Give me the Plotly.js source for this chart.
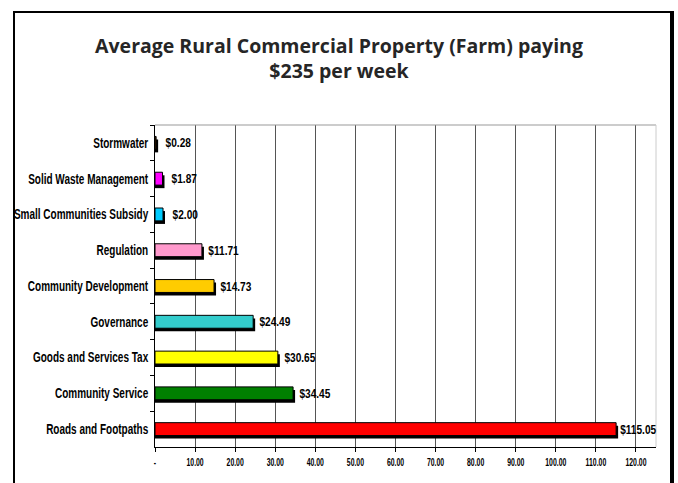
<!DOCTYPE html>
<html>
<head>
<meta charset="utf-8">
<script src="https://cdn.plot.ly/plotly-3.0.1.min.js"></script>
<style>
  html, body { margin: 0; padding: 0; background: #fff; }
  #wrap { position: relative; width: 678px; height: 483px; overflow: hidden; }
  #chart { width: 678px; height: 483px; }
  #frame { position: absolute; left: 13px; top: 11px; width: 655px; height: 500px;
           border-left: 2px solid #000; border-top: 2px solid #000; border-right: 4px solid #000;
           pointer-events: none; }
</style>
</head>
<body>
<div id="wrap">
  <div id="chart"></div>
  <div id="frame"></div>
</div>
<script>
// Data (top to bottom as shown)
const categories = [
  "Stormwater",
  "Solid Waste Management",
  "Small Communities Subsidy",
  "Regulation",
  "Community Development",
  "Governance",
  "Goods and Services Tax",
  "Community Service",
  "Roads and Footpaths"
];
const values = [0.28, 1.87, 2.00, 11.71, 14.73, 24.49, 30.65, 34.45, 115.05];
const valueLabels = ["$0.28", "$1.87", "$2.00", "$11.71", "$14.73", "$24.49", "$30.65", "$34.45", "$115.05"];
const barColors = ["#663300", "#FF00FF", "#00CCFF", "#FF99CC", "#FFCC00", "#33CCCC", "#FFFF00", "#008000", "#FF0000"];
const tickValues = [0, 10, 20, 30, 40, 50, 60, 70, 80, 90, 100, 110, 120];
const tickLabels = ["-", "10.00", "20.00", "30.00", "40.00", "50.00", "60.00", "70.00", "80.00", "90.00", "100.00", "110.00", "120.00"];

const lab = "'Liberation Sans', Arial, sans-serif";
const barW = 0.36;

const shadow = {
  type: "bar", orientation: "h",
  y: categories, x: values.map(v => v + 0.5),
  width: barW, offset: -barW / 2 + 0.085,
  marker: { color: "#000" },
  hoverinfo: "skip", showlegend: false
};
const main = {
  type: "bar", orientation: "h",
  y: categories, x: values,
  width: barW, offset: -barW / 2,
  marker: { color: barColors, line: { color: "#000", width: 1 } },
  showlegend: false
};

const annotations = categories.map((c, i) => ({
  x: values[i], y: c, xref: "x", yref: "y",
  text: valueLabels[i], showarrow: false,
  xanchor: "center", yanchor: "middle", xshift: 22,
  font: { family: lab, size: 13, color: "#000", weight: "bold" }
}));

const layout = {
  width: 678, height: 483,
  margin: { l: 155, r: 22, t: 125, b: 36 },
  paper_bgcolor: "#fff", plot_bgcolor: "#fff",
  barmode: "overlay",
  showlegend: false,
  title: {
    text: "<b>Average Rural Commercial Property (Farm) paying<br>$235 per week</b>",
    font: { family: "'Open Sans', 'Liberation Sans', sans-serif", size: 19.5, color: "#262626" },
    x: 0.5, xanchor: "center", y: 0.891, yanchor: "top"
  },
  xaxis: {
    range: [0, 125], tickvals: tickValues, ticktext: tickLabels,
    showgrid: true, gridcolor: "#555", gridwidth: 1,
    showline: true, linecolor: "#000", linewidth: 1,
    ticks: "outside", ticklen: 4, tickcolor: "#000",
    tickfont: { family: lab, size: 11.5, color: "#000", weight: "bold" },
    zeroline: false, fixedrange: true
  },
  yaxis: {
    autorange: "reversed", type: "category",
    showgrid: false, showline: true, linecolor: "#000", linewidth: 1,
    ticks: "outside", ticklen: 4, tickcolor: "#000", tickson: "boundaries",
    ticklabelstandoff: 3,
    tickfont: { family: lab, size: 14, color: "#000", weight: "bold" },
    fixedrange: true
  },
  annotations: annotations,
  shapes: [
    { type: "line", xref: "paper", yref: "paper", x0: 0, x1: 1, y0: 1, y1: 1, line: { color: "#999", width: 1 } },
    { type: "line", xref: "paper", yref: "paper", x0: 1, x1: 1, y0: 0, y1: 1, line: { color: "#ccc", width: 1 } }
  ]
};

// Condense text horizontally (the reference uses a narrow bold face)
function condense(nodes, refText, refWidth) {
  let ratio = 0.7;
  nodes.forEach(n => { if (n.textContent === refText) ratio = refWidth / n.getComputedTextLength(); });
  nodes.forEach(n => {
    const w = n.getComputedTextLength();
    if (w > 0) {
      n.setAttribute("textLength", (w * ratio).toFixed(2));
      n.setAttribute("lengthAdjust", "spacingAndGlyphs");
    }
  });
}

Plotly.newPlot("chart", [shadow, main], layout, { staticPlot: true, displayModeBar: false }).then(gd => {
  condense(Array.from(gd.querySelectorAll(".ytick text")), "Solid Waste Management", 120);
  condense(Array.from(gd.querySelectorAll(".xtick text")), "120.00", 21);
  condense(Array.from(gd.querySelectorAll(".annotation-text")), "$115.05", 36);
});
</script>
</body>
</html>
